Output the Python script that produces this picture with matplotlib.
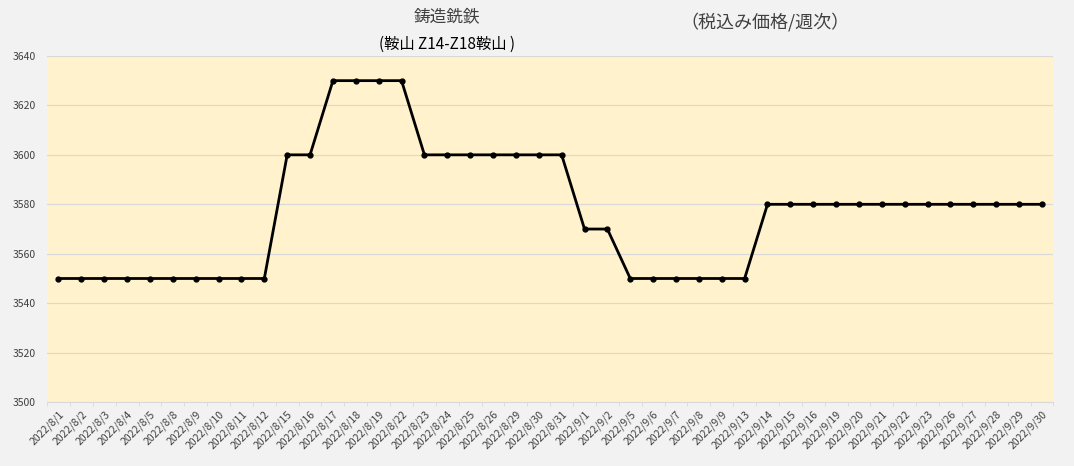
import matplotlib
matplotlib.use("Agg")
import matplotlib.pyplot as plt
import numpy as np

plt.rcParams['font.family'] = ['Noto Sans CJK JP', 'DejaVu Sans']

dates = [
    "2022/8/1", "2022/8/2", "2022/8/3", "2022/8/4", "2022/8/5",
    "2022/8/8", "2022/8/9", "2022/8/10", "2022/8/11", "2022/8/12",
    "2022/8/15", "2022/8/16", "2022/8/17", "2022/8/18", "2022/8/19",
    "2022/8/22", "2022/8/23", "2022/8/24", "2022/8/25", "2022/8/26",
    "2022/8/29", "2022/8/30", "2022/8/31", "2022/9/1", "2022/9/2",
    "2022/9/5", "2022/9/6", "2022/9/7", "2022/9/8", "2022/9/9",
    "2022/9/13", "2022/9/14", "2022/9/15", "2022/9/16", "2022/9/19",
    "2022/9/20", "2022/9/21", "2022/9/22", "2022/9/23", "2022/9/26",
    "2022/9/27", "2022/9/28", "2022/9/29", "2022/9/30",
]
prices = [
    3550, 3550, 3550, 3550, 3550, 3550, 3550, 3550, 3550, 3550,
    3600, 3600,
    3630, 3630, 3630, 3630,
    3600, 3600, 3600, 3600, 3600, 3600, 3600,
    3570, 3570,
    3550, 3550, 3550, 3550, 3550, 3550,
    3580, 3580, 3580, 3580, 3580, 3580, 3580, 3580, 3580, 3580, 3580, 3580, 3580,
]
y_ticks = [3500, 3520, 3540, 3560, 3580, 3600, 3620, 3640]

fig = plt.figure(figsize=(10.74, 4.66), dpi=100, facecolor="#f2f2f2")
ax = fig.add_axes([0.0438, 0.137, 0.937, 0.743])
ax.set_facecolor("#fff2cc")

x = list(range(len(dates)))
ax.plot(x, prices, color="black", linewidth=2, marker="o", markersize=3.5, zorder=3)

ax.set_xlim(-0.5, len(dates) - 0.5)
ax.set_ylim(3500, 3640)
ax.set_yticks(y_ticks)
ax.grid(axis="y", color="#d9d9d9", linewidth=0.8)
ax.set_axisbelow(True)

ax.set_xticks(x)
ax.set_xticklabels(dates, rotation=45, ha="right", rotation_mode="anchor")
ax.set_xticks(np.arange(-0.5, len(dates)), minor=True)
ax.tick_params(axis="x", which="major", labelsize=7.5, colors="#404040", length=0, pad=5)
ax.tick_params(axis="x", which="minor", length=3, color="#d9d9d9")
ax.tick_params(axis="y", labelsize=7.5, colors="#404040", length=0, pad=8)

for s in ["left", "right", "top"]:
    ax.spines[s].set_visible(False)
ax.spines["bottom"].set_color("#d9d9d9")

fig.text(0.4165, 0.965, "鋳造銑鉄", ha="center", va="center", fontsize=12, color="#404040")
fig.text(0.4165, 0.905, "(鞍山 Z14-Z18鞍山 )", ha="center", va="center", fontsize=11, color="black")
fig.text(0.712, 0.953, "（税込み価格/週次）", ha="center", va="center", fontsize=13, color="#404040")

fig.savefig("out.png", dpi=100, facecolor=fig.get_facecolor())
